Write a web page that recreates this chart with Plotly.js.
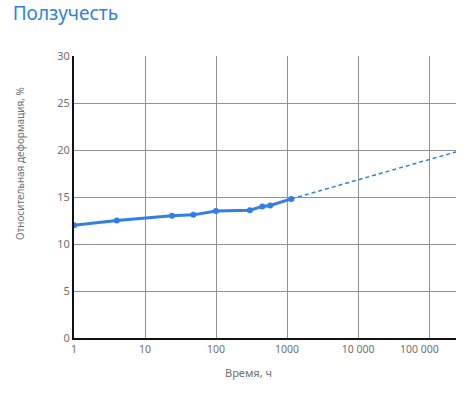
<!DOCTYPE html>
<html><head><meta charset="utf-8">
<script src="https://cdn.plot.ly/plotly-3.0.1.min.js"></script>
<style>body{margin:0;background:#fff}#c{width:470px;height:400px}</style>
</head><body><div id="c"></div>
<script>
var timeHours = [1, 4, 24, 48, 100, 300, 450, 580, 1150];
var strainPct = [12.0, 12.5, 13.0, 13.1, 13.5, 13.6, 14.0, 14.1, 14.8];
var forecastTime = [1150, 240000];
var forecastStrain = [14.8, 19.8];
var xTickVals = [1, 10, 100, 1000, 10000, 100000];
var xTickText = ['1', '10', '100', '1000', '10\u00a0000', '100\u00a0000\u00a0\u00a0\u00a0\u00a0\u00a0\u00a0\u00a0'];
var yTickVals = [0, 5, 10, 15, 20, 25, 30];

var blue = '#2f7fe6';
var traces = [
  {x: forecastTime, y: forecastStrain, mode: 'lines', line: {color: blue, width: 1.5, dash: '4px,3px'}, hoverinfo: 'none'},
  {x: timeHours, y: strainPct, mode: 'lines+markers', line: {color: blue, width: 3}, marker: {color: blue, size: 6}}
];
var layout = {
  width: 470, height: 400,
  margin: {l: 74, r: 14, t: 56, b: 62},
  showlegend: false,
  paper_bgcolor: '#fff', plot_bgcolor: '#fff',
  font: {family: 'Noto Sans, Open Sans, sans-serif', color: '#6b6b6b', size: 11},
  title: {text: 'Ползучесть', x: 0.027, xanchor: 'left', y: 0.983, yanchor: 'top', pad: {t: 0}, font: {size: 19, color: '#2f7fe6', family: 'Noto Sans, sans-serif'}},
  xaxis: {
    type: 'log', range: [0, 5.38],
    tickvals: xTickVals, ticktext: xTickText,
    showgrid: true, gridcolor: '#929292', gridwidth: 1,
    showline: true, linecolor: '#111', linewidth: 2,
    ticks: '', zeroline: false,
    tickfont: {size: 10.5, color: '#707070'}
  },
  yaxis: {
    range: [0, 30], tickvals: yTickVals,
    showgrid: true, gridcolor: '#929292', gridwidth: 1,
    showline: true, linecolor: '#111', linewidth: 2,
    ticks: '', zeroline: false,
    tickfont: {size: 11, color: '#707070'}
  },
  annotations: [
    {text: 'Время, ч', xref: 'paper', yref: 'paper', x: 0.458, y: -0.1206, xanchor: 'center', yanchor: 'middle', showarrow: false, font: {size: 11, color: '#707070'}},
    {text: 'Относительная деформация, %', xref: 'paper', yref: 'paper', x: -0.1414, y: 0.6206, textangle: -90, xanchor: 'center', yanchor: 'middle', showarrow: false, font: {size: 10, color: '#707070'}}
  ]
};
Plotly.newPlot('c', traces, layout, {displayModeBar: false, staticPlot: true});
</script></body></html>
